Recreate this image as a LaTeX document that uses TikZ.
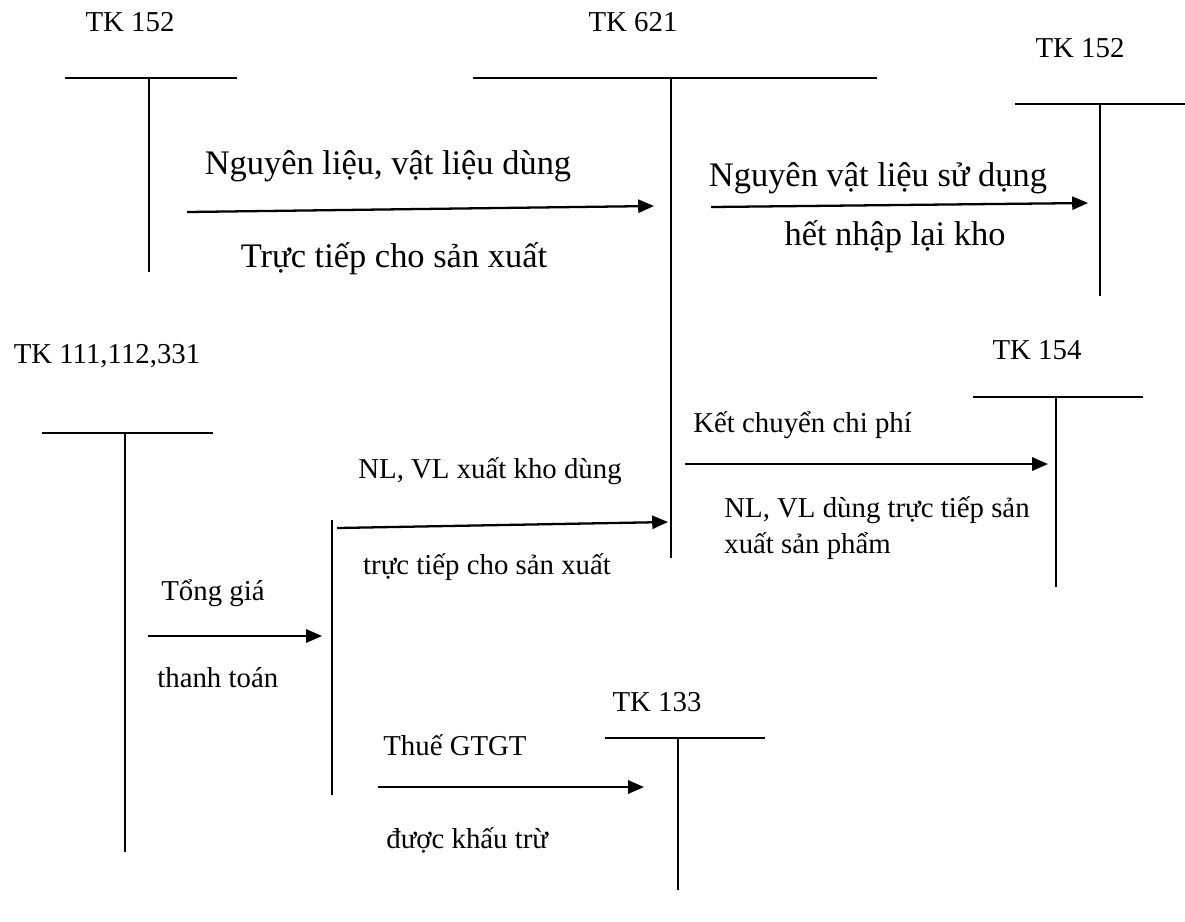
\documentclass[tikz,border=0pt]{standalone}
\usepackage{fontspec}
\setmainfont{Liberation Serif}
\usetikzlibrary{arrows.meta}
\newcommand\tksmall{\fontsize{16.4pt}{19.5pt}\selectfont}
\newcommand\tkbig{\fontsize{19.6pt}{23pt}\selectfont}
\tikzset{
  acc/.style={line width=0.8pt},
  acch/.style={line width=1.2pt},
  flow/.style={line width=1.3pt,-{Triangle[length=9pt,width=7.5pt]}},
  lbl/.style={inner sep=0pt,font=\tksmall},
  big/.style={inner sep=0pt,font=\tkbig},
}
\begin{document}
\begin{tikzpicture}[x=0.02cm,y=-0.02cm]
\useasboundingbox (0,0) rectangle (1185,921);
% T-account TK 152 (left)
\node[lbl] (l152) at (130,22) {TK 152};
\coordinate (h1a) at (65,78); \coordinate (h1b) at (237,78);
\coordinate (v1a) at (149,78); \coordinate (v1b) at (149,272);
\draw[acch] (h1a) -- (h1b); \draw[acc] (v1a) -- (v1b);
% TK 621
\node[lbl] (l621) at (633,22) {TK 621};
\coordinate (h2a) at (473,78); \coordinate (h2b) at (877,78);
\coordinate (v2a) at (671,78); \coordinate (v2b) at (671,558);
\draw[acch] (h2a) -- (h2b); \draw[acc] (v2a) -- (v2b);
% TK 152 (right)
\node[lbl] (r152) at (1080,48) {TK 152};
\coordinate (h3a) at (1015,104); \coordinate (h3b) at (1185,104);
\coordinate (v3a) at (1100,104); \coordinate (v3b) at (1100,296);
\draw[acch] (h3a) -- (h3b); \draw[acc] (v3a) -- (v3b);
% TK 111,112,331
\node[lbl] (l111) at (107,356) {TK 111,112,331};
\coordinate (h4a) at (42,433); \coordinate (h4b) at (213,433);
\coordinate (v4a) at (125,433); \coordinate (v4b) at (125,852);
\draw[acch] (h4a) -- (h4b); \draw[acc] (v4a) -- (v4b);
% TK 154
\node[lbl] (l154) at (1037,350) {TK 154};
\coordinate (h5a) at (973,397); \coordinate (h5b) at (1143,397);
\coordinate (v5a) at (1056,397); \coordinate (v5b) at (1056,587);
\draw[acch] (h5a) -- (h5b); \draw[acc] (v5a) -- (v5b);
% TK 133
\node[lbl] (l133) at (657,702) {TK 133};
\coordinate (h6a) at (605,738); \coordinate (h6b) at (765,738);
\coordinate (h6c) at (672,738); \coordinate (h6d) at (713,738);
\coordinate (v6a) at (678,738); \coordinate (v6b) at (678,890);
\draw[acc] (h6a) -- (h6b); \draw[acch] (h6c) -- (h6d); \draw[acc] (v6a) -- (v6b);
% bracket
\coordinate (bra) at (332,520); \coordinate (brb) at (332,795);
\draw[acc] (bra) -- (brb);
% arrow 1
\coordinate (a1s) at (187,212); \coordinate (a1e) at (654,206);
\draw[flow] (a1s) -- (a1e);
\node[big] (t1a) at (388,166) {Nguyên liệu, vật liệu dùng};
\node[big] (t1b) at (394,259) {Trực tiếp cho sản xuất};
% arrow 2
\coordinate (a2s) at (711,207); \coordinate (a2e) at (1088,203);
\draw[flow] (a2s) -- (a2e);
\node[big] (t2a) at (878,178) {Nguyên vật liệu sử dụng};
\node[big] (t2b) at (895,237) {hết nhập lại kho};
% arrow 3
\coordinate (a3s) at (685,464); \coordinate (a3e) at (1048,464);
\draw[flow] (a3s) -- (a3e);
\node[lbl,anchor=west] (t3a) at (693,425) {Kết chuyển chi phí};
\node[lbl,anchor=west] (t3b) at (724,510) {NL, VL dùng trực tiếp sản};
\node[lbl,anchor=west] (t3c) at (724,546) {xuất sản phẩm};
% arrow 4
\coordinate (a4s) at (337,528); \coordinate (a4e) at (668,522);
\draw[flow] (a4s) -- (a4e);
\node[lbl] (t4a) at (490,471) {NL, VL xuất kho dùng};
\node[lbl] (t4b) at (487,567) {trực tiếp cho sản xuất};
% arrow 5
\coordinate (a5s) at (148,636); \coordinate (a5e) at (322,636);
\draw[flow] (a5s) -- (a5e);
\node[lbl,anchor=west] (t5a) at (161,593) {Tổng giá};
\node[lbl,anchor=west] (t5b) at (157,678) {thanh toán};
% arrow 6
\coordinate (a6s) at (378,787); \coordinate (a6e) at (644,787);
\draw[flow] (a6s) -- (a6e);
\node[lbl,anchor=west] (t6a) at (383,745) {Thuế GTGT};
\node[lbl,anchor=west] (t6b) at (386,840) {được khấu trừ};
\end{tikzpicture}
\end{document}
